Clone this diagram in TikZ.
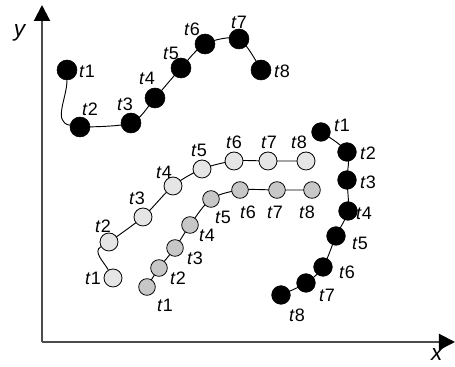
\documentclass[tikz,border=0pt]{standalone}
\usepackage{fontspec}
\setmainfont{Liberation Sans}
\usepackage{tikz}
\usetikzlibrary{arrows.meta, backgrounds}

\newcommand{\tl}[1]{\textit{t}#1}

\begin{document}
\begin{tikzpicture}[
    x=0.75pt, y=0.75pt,
    every node/.style={font=\fontsize{13.5}{15}\selectfont, inner sep=0pt},
    axlab/.style={font=\fontsize{17}{19}\selectfont},
    blk/.style={circle, draw=black, fill=black, minimum size=15pt},
    blkr/.style={circle, draw=black, fill=black, minimum size=14pt},
    lgt/.style={circle, draw=black, fill=black!10, minimum size=13.5pt, line width=0.6pt},
    drk/.style={circle, draw=black, fill=black!22, minimum size=12.5pt, line width=0.6pt},
    path/.style={draw=black, line width=0.7pt},
    axis/.style={draw=black!70, line width=1.5pt, -{Triangle[length=12pt, width=12pt, fill=black, color=black]}}
]
\useasboundingbox (0,0) rectangle (455,367);

% --- Axes ---
\coordinate (O) at (42,25);
\coordinate (ytip) at (42,362);
\coordinate (xtip) at (455,25);
\draw[axis] (O) -- (ytip);
\draw[axis] (O) -- (xtip);
\node[axlab] (ylab) at (20,334) {\textit{y}};
\node[axlab] (xlab) at (437,12) {\textit{x}};

% --- Upper black trajectory ---
\node[blk] (a1) at (67,297) {};
\node[blk] (a2) at (80,240) {};
\node[blk] (a3) at (131,244) {};
\node[blk] (a4) at (155,269) {};
\node[blk] (a5) at (181,299) {};
\node[blk] (a6) at (205,323) {};
\node[blk] (a7) at (239,328) {};
\node[blk] (a8) at (261,297) {};
\node (la1) at (87,296) {\tl1};
\node (la2) at (90,258) {\tl2};
\node (la3) at (125,263) {\tl3};
\node (la4) at (147,289) {\tl4};
\node (la5) at (171,314) {\tl5};
\node (la6) at (192,338) {\tl6};
\node (la7) at (239,345) {\tl7};
\node (la8) at (282,296) {\tl8};

% --- Light grey trajectory ---
\node[lgt] (l1) at (113,89) {};
\node[lgt] (l2) at (109,125) {};
\node[lgt] (l3) at (143,150) {};
\node[lgt] (l4) at (173,181) {};
\node[lgt] (l5) at (202,198) {};
\node[lgt] (l6) at (234,206) {};
\node[lgt] (l7) at (268,206) {};
\node[lgt] (l8) at (306,206) {};
\node (ll1) at (93,89) {\tl1};
\node (ll2) at (103,141) {\tl2};
\node (ll3) at (137,169) {\tl3};
\node (ll4) at (164,195) {\tl4};
\node (ll5) at (199,217) {\tl5};
\node (ll6) at (234,225) {\tl6};
\node (ll7) at (269,225) {\tl7};
\node (ll8) at (299,225) {\tl8};

% --- Dark grey trajectory ---
\node[drk] (d1) at (147,80) {};
\node[drk] (d2) at (159,99) {};
\node[drk] (d3) at (175,119) {};
\node[drk] (d4) at (190,142) {};
\node[drk] (d5) at (211,168) {};
\node[drk] (d6) at (240,177) {};
\node[drk] (d7) at (277,177) {};
\node[drk] (d8) at (312,177) {};
\node (ld1) at (165,62) {\tl1};
\node (ld2) at (178,89) {\tl2};
\node (ld3) at (195,109) {\tl3};
\node (ld4) at (207,132) {\tl4};
\node (ld5) at (223,150) {\tl5};
\node (ld6) at (248,155) {\tl6};
\node (ld7) at (275,155) {\tl7};
\node (ld8) at (307,155) {\tl8};

% --- Right black trajectory ---
\node[blkr] (b1) at (321,235) {};
\node[blkr] (b2) at (347,215) {};
\node[blkr] (b3) at (347,187) {};
\node[blkr] (b4) at (348,156) {};
\node[blkr] (b5) at (336,131) {};
\node[blkr] (b6) at (323,100) {};
\node[blkr] (b7) at (306,84) {};
\node[blkr] (b8) at (281,72) {};
\node (lb1) at (342,242) {\tl1};
\node (lb2) at (368,214) {\tl2};
\node (lb3) at (368,185) {\tl3};
\node (lb4) at (364,154) {\tl4};
\node (lb5) at (360,124) {\tl5};
\node (lb6) at (347,95) {\tl6};
\node (lb7) at (327,72) {\tl7};
\node (lb8) at (297,52) {\tl8};

% --- Curves behind the points ---
\begin{scope}[on background layer]
    \draw[path] (a1) to[out=-90, in=170] (a2);
    \draw[path] plot[smooth] coordinates {(a2) (a3) (a4) (a5) (a6) (a7) (a8)};
    \draw[path] (l1) to[out=120, in=-150] (l2);
    \draw[path] plot[smooth] coordinates {(l2) (l3) (l4) (l5) (l6) (l7) (l8)};
    \draw[path] plot[smooth] coordinates {(d1) (d2) (d3) (d4) (d5) (d6) (d7) (d8)};
    \draw[path] plot[smooth] coordinates {(b1) (b2) (b3) (b4) (b5) (b6) (b7) (b8)};
\end{scope}

\end{tikzpicture}
\end{document}
